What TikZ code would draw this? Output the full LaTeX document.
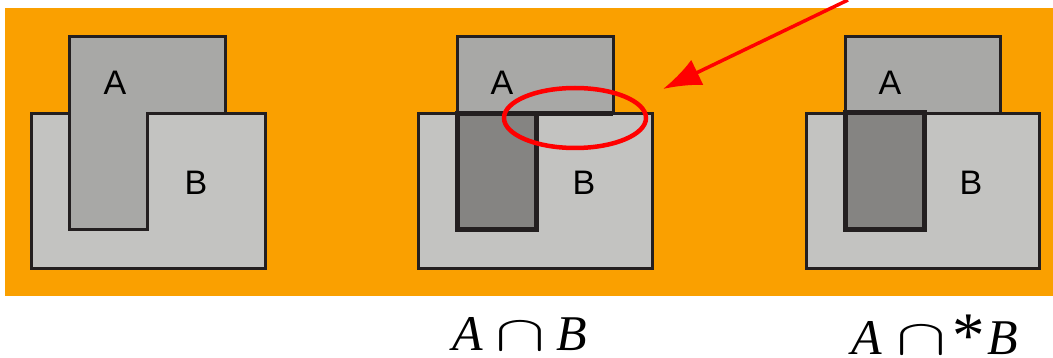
\documentclass[tikz,border=0pt]{standalone}
\usepackage{fontspec}
\setmainfont{Liberation Sans}
\newfontfamily\mathserif{Liberation Serif}
\usetikzlibrary{arrows.meta,shapes.geometric}
\definecolor{bgorange}{RGB}{250,160,0}
\definecolor{afill}{RGB}{168,168,166}
\definecolor{bfill}{RGB}{195,195,193}
\definecolor{dfill}{RGB}{133,132,130}
\definecolor{edgecol}{RGB}{35,31,32}
\definecolor{redmark}{RGB}{255,0,0}
\newcommand{\capglyph}{\resizebox{50pt}{28pt}{$\cap$}}
\newcommand{\astglyph}{\raisebox{-4pt}{\scalebox{1.3}{*}}}
\tikzset{
  setb/.style={fill=bfill, draw=edgecol, line width=3pt},
  seta/.style={fill=afill, draw=edgecol, line width=3pt},
  inter/.style={fill=dfill, draw=edgecol, line width=5pt},
  lbl/.style={font=\fontsize{34}{40}\selectfont, inner sep=0pt},
  mlbl/.style={font=\mathserif\fontsize{50}{56}\selectfont, inner sep=0pt, anchor=base west},
  redline/.style={draw=redmark, line width=4.5pt}
}
\begin{document}
\begin{tikzpicture}[x=1pt,y=-1pt]
\useasboundingbox (0,0) rectangle (1053,358);
\fill[bgorange] (5,8) rectangle (1053,296);
% panel 1
\draw[setb] (31,114) rectangle (265,269);
\draw[seta] (69,37) -- (225,37) -- (225,114) -- (147,114) -- (147,230) -- (69,230) -- cycle;
\node[lbl] (a1) at (115,83) {A};
\node[lbl] (b1) at (196,183) {B};
% panel 2
\draw[setb] (418,114) rectangle (652,269);
\draw[seta] (457,37) rectangle (613,114);
\draw[inter] (457,114) rectangle (536,230);
\draw[edgecol, line width=5pt] (536,114) -- (613,114);
\node[lbl] (a2) at (502,83) {A};
\node[lbl] (b2) at (584,183) {B};
\node[redline, ellipse, minimum width=142pt, minimum height=60pt, inner sep=0pt] (ring) at (575,118) {};
% panel 3
\draw[setb] (806,114) rectangle (1039,269);
\draw[seta] (845,37) rectangle (1000,114);
\draw[inter] (845,113) rectangle (924,230);
\node[lbl] (a3) at (890,83) {A};
\node[lbl] (b3) at (971,183) {B};
% arrow
\coordinate (arrstart) at (848,0);
\coordinate (arrtip) at (663,89);
\draw[redline, line width=3.5pt, -{Latex[length=38pt,width=28pt]}] (arrstart) -- (arrtip);
% formulas
\node[mlbl] (f1) at (452,350) {\itshape A\upshape\hspace{13pt}\capglyph\hspace{11pt}\itshape B};
\node[mlbl] (f2) at (851,354) {\itshape A\upshape\hspace{15pt}\capglyph\hspace{6pt}\astglyph\hspace{2pt}\itshape B};
\end{tikzpicture}
\end{document}
